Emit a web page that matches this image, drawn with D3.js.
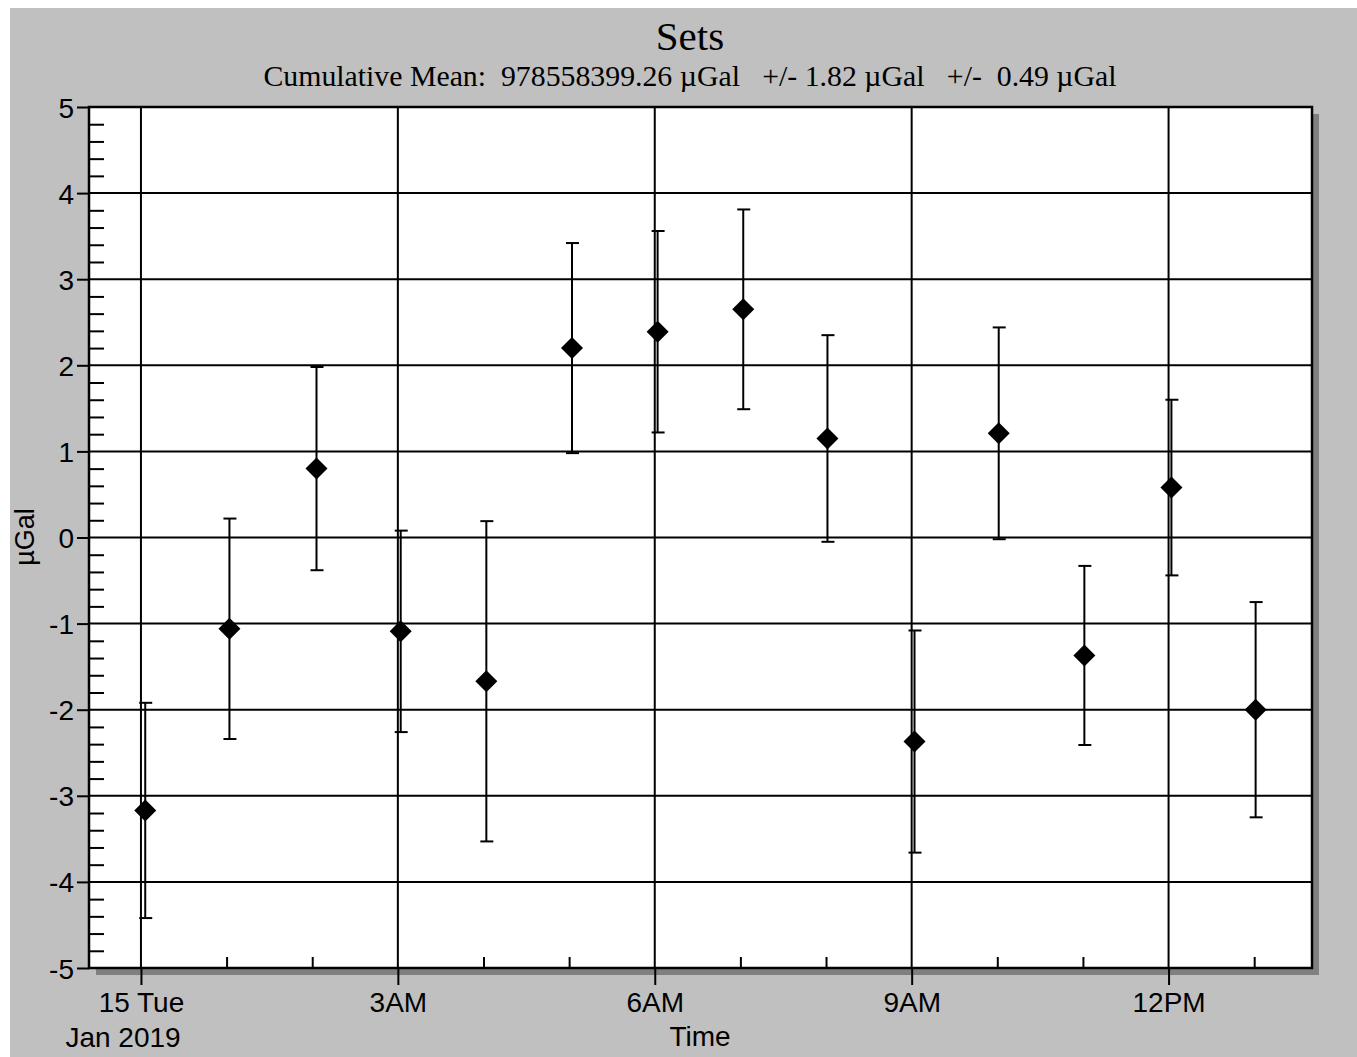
<!DOCTYPE html>
<html>
<head>
<meta charset="utf-8">
<script src="https://cdn.jsdelivr.net/npm/d3@7"></script>
<style>
  body { margin: 0; background: #fff; }
  text { fill: #000; }
</style>
</head>
<body>
<svg id="chart" width="1357" height="1057"></svg>
<script>
// measurement times on Jan 15 2019 (hh:mm)
const times = ['00:03', '01:02', '02:03', '03:02', '04:02', '05:02', '06:02', '07:02', '08:01', '09:02', '10:01', '11:01', '12:02', '13:01'];
// set means relative to cumulative mean (µGal)
const values = [-3.17, -1.06, 0.80, -1.09, -1.67, 2.20, 2.39, 2.65, 1.15, -2.37, 1.21, -1.37, 0.58, -2.00];
// set uncertainty (µGal)
const errors = [1.25, 1.28, 1.18, 1.17, 1.86, 1.22, 1.17, 1.16, 1.20, 1.29, 1.23, 1.04, 1.02, 1.25];

const xTickTimes = ['00:00', '03:00', '06:00', '09:00', '12:00'];
const xTickLabels = ['15 Tue', '3AM', '6AM', '9AM', '12PM'];
const yTicks = [-5, -4, -3, -2, -1, 0, 1, 2, 3, 4, 5];

const title = 'Sets';
const subtitle = 'Cumulative Mean:  978558399.26 \u00b5Gal   +/- 1.82 \u00b5Gal   +/-  0.49 \u00b5Gal';

const parseT = (s) => {
  const [h, m] = s.split(':').map(Number);
  return new Date(2019, 0, 15, h, m, 0);
};

const svg = d3.select('#chart');
const plotL = 89, plotR = 1312, plotT = 107, plotB = 968;

svg.append('rect').attr('x', 10).attr('y', 8).attr('width', 1347).attr('height', 1049).attr('fill', '#c0c0c0');

const x = d3.scaleTime()
  .domain([new Date(2019, 0, 14, 23, 23, 36), new Date(2019, 0, 15, 13, 40, 30)])
  .range([plotL, plotR]);
const y = d3.scaleLinear().domain([-5, 5]).range([plotB, plotT]);

// shadow + plot area
svg.append('rect').attr('x', plotL + 7).attr('y', plotT + 7).attr('width', plotR - plotL).attr('height', plotB - plotT).attr('fill', '#808080');
svg.append('rect').attr('x', plotL).attr('y', plotT).attr('width', plotR - plotL).attr('height', plotB - plotT).attr('fill', '#fff');

// grid
svg.append('g').selectAll('line').data(yTicks.slice(1, -1)).enter().append('line')
  .attr('x1', plotL).attr('x2', plotR).attr('y1', (d) => y(d)).attr('y2', (d) => y(d))
  .attr('stroke', '#000').attr('stroke-width', 2);
svg.append('g').selectAll('line').data(xTickTimes).enter().append('line')
  .attr('x1', (d) => x(parseT(d))).attr('x2', (d) => x(parseT(d))).attr('y1', plotT).attr('y2', plotB)
  .attr('stroke', '#000').attr('stroke-width', 2);

// y axis: major ticks outside, minor ticks inside
const yMinor = d3.range(-50, 51, 2).filter((v) => v % 10 !== 0).map((v) => v / 10);
svg.append('g').attr('transform', `translate(${plotL},0)`)
  .call(d3.axisLeft(y).tickValues(yTicks).tickSize(12).tickPadding(3).tickFormat((d) => String(d)))
  .call((g) => g.select('.domain').remove())
  .call((g) => g.selectAll('line').attr('stroke-width', 2))
  .call((g) => g.selectAll('text').attr('font-family', 'Liberation Sans, Arial, sans-serif').attr('font-size', 28).attr('dy', '0.36em'));
svg.append('g').attr('transform', `translate(${plotL},0)`)
  .call(d3.axisRight(y).tickValues(yMinor).tickSize(15).tickFormat(''))
  .call((g) => g.select('.domain').remove())
  .call((g) => g.selectAll('line').attr('stroke-width', 2));

// x axis: major ticks below, hourly minor ticks inside
const hours = d3.range(0, 14).filter((h) => h % 3 !== 0).map((h) => new Date(2019, 0, 15, h, 0, 0));
svg.append('g').attr('transform', `translate(0,${plotB})`)
  .call(d3.axisBottom(x).tickValues(xTickTimes.map(parseT)).tickSize(17).tickFormat((d, i) => xTickLabels[i]))
  .call((g) => g.select('.domain').remove())
  .call((g) => g.selectAll('line').attr('stroke-width', 2))
  .call((g) => g.selectAll('text').attr('font-family', 'Liberation Sans, Arial, sans-serif').attr('font-size', 28).attr('y', 44).attr('dy', 0));
svg.append('g').attr('transform', `translate(0,${plotB})`)
  .call(d3.axisTop(x).tickValues(hours).tickSize(11).tickFormat(''))
  .call((g) => g.select('.domain').remove())
  .call((g) => g.selectAll('line').attr('stroke-width', 2));

// plot frame
svg.append('rect').attr('x', plotL).attr('y', plotT).attr('width', plotR - plotL).attr('height', plotB - plotT)
  .attr('fill', 'none').attr('stroke', '#000').attr('stroke-width', 2.5);

// error bars
const pts = times.map((t, i) => ({ t: parseT(t), v: values[i], e: errors[i] }));
const eb = svg.append('g').attr('stroke', '#000').attr('stroke-width', 2);
eb.selectAll('line.bar').data(pts).enter().append('line').attr('class', 'bar')
  .attr('x1', (d) => x(d.t)).attr('x2', (d) => x(d.t))
  .attr('y1', (d) => y(d.v + d.e)).attr('y2', (d) => y(d.v - d.e));
eb.selectAll('line.capt').data(pts).enter().append('line').attr('class', 'capt')
  .attr('x1', (d) => x(d.t) - 6).attr('x2', (d) => x(d.t) + 7)
  .attr('y1', (d) => y(d.v + d.e)).attr('y2', (d) => y(d.v + d.e));
eb.selectAll('line.capb').data(pts).enter().append('line').attr('class', 'capb')
  .attr('x1', (d) => x(d.t) - 6).attr('x2', (d) => x(d.t) + 7)
  .attr('y1', (d) => y(d.v - d.e)).attr('y2', (d) => y(d.v - d.e));

// diamonds
svg.append('g').selectAll('path').data(pts).enter().append('path')
  .attr('d', (d) => {
    const cx = x(d.t), cy = y(d.v), r = 11;
    return `M${cx},${cy - r}L${cx + r},${cy}L${cx},${cy + r}L${cx - r},${cy}Z`;
  })
  .attr('fill', '#000');

// titles
svg.append('text').attr('x', 690).attr('y', 50).attr('text-anchor', 'middle')
  .attr('font-family', 'Liberation Serif, Times New Roman, serif').attr('font-size', 41).text(title);
svg.append('text').attr('x', 690).attr('y', 86).attr('text-anchor', 'middle').style('white-space', 'pre')
  .attr('font-family', 'Liberation Serif, Times New Roman, serif').attr('font-size', 29.8).text(subtitle);

// axis titles
svg.append('text').attr('transform', 'translate(34,537) rotate(-90)').attr('text-anchor', 'middle')
  .attr('font-family', 'Liberation Sans, Arial, sans-serif').attr('font-size', 27).text('\u00b5Gal');
svg.append('text').attr('x', 123).attr('y', 1047).attr('text-anchor', 'middle')
  .attr('font-family', 'Liberation Sans, Arial, sans-serif').attr('font-size', 28).text('Jan 2019');
svg.append('text').attr('x', 700).attr('y', 1046).attr('text-anchor', 'middle')
  .attr('font-family', 'Liberation Sans, Arial, sans-serif').attr('font-size', 28).text('Time');
</script>
</body>
</html>
